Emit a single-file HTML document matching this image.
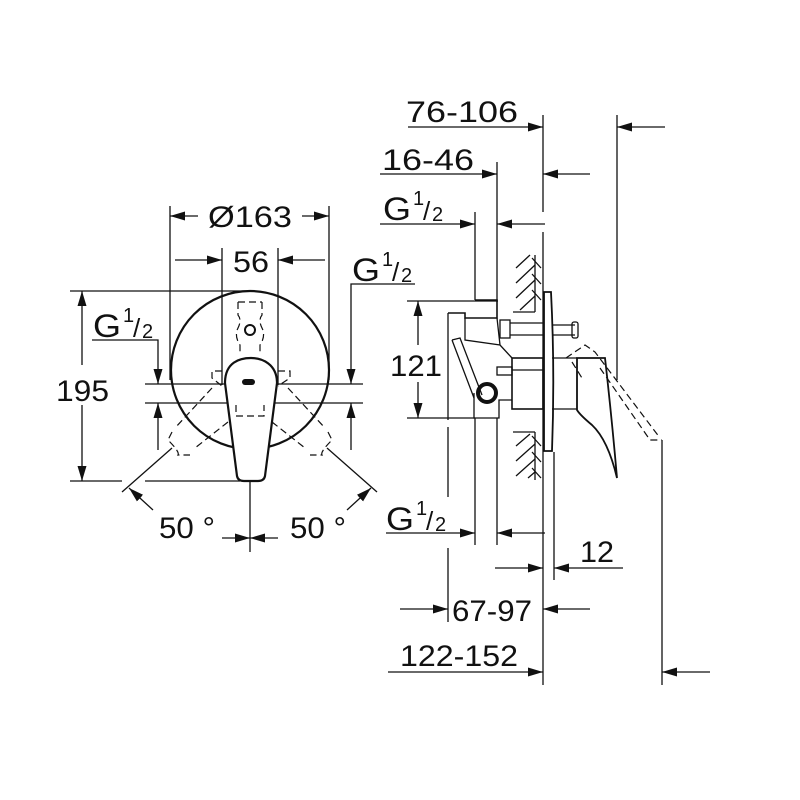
<!DOCTYPE html>
<html><head><meta charset="utf-8"><style>
html,body{margin:0;padding:0;background:#fff;}
svg{display:block;}
text{font-family:"Liberation Sans",Arial,sans-serif;fill:#111;}
</style></head><body>
<svg width="800" height="800" viewBox="0 0 800 800" xmlns="http://www.w3.org/2000/svg">
<defs>
<marker id="a" markerUnits="userSpaceOnUse" markerWidth="16" markerHeight="10" refX="15" refY="5" orient="auto">
<path d="M0,0.5 L15,5 L0,9.5 z" fill="#111"/></marker>
</defs>
<g stroke="#111" stroke-width="1.3" fill="none">
<circle cx="250" cy="370" r="79" stroke-width="2.2"/>
<line x1="170" y1="206" x2="170" y2="380"/>
<line x1="329" y1="206" x2="329" y2="380"/>
<line x1="198" y1="216" x2="170" y2="216" marker-end="url(#a)"/>
<line x1="302" y1="216" x2="329" y2="216" marker-end="url(#a)"/>
<line x1="222" y1="248" x2="222" y2="385"/>
<line x1="278" y1="248" x2="278" y2="385"/>
<line x1="175" y1="260" x2="222" y2="260" marker-end="url(#a)"/>
<line x1="325" y1="260" x2="278" y2="260" marker-end="url(#a)"/>
<line x1="70" y1="291" x2="250" y2="291"/>
<line x1="70" y1="481" x2="122" y2="481"/>
<line x1="145" y1="481" x2="240" y2="481"/>
<line x1="82" y1="365" x2="82" y2="291" marker-end="url(#a)"/>
<line x1="82" y1="405" x2="82" y2="481" marker-end="url(#a)"/>
<line x1="145" y1="384" x2="363" y2="384"/>
<line x1="145" y1="403" x2="363" y2="403"/>
<polyline points="92,340 158,340 158,384" marker-end="url(#a)"/>
<line x1="158" y1="450" x2="158" y2="403" marker-end="url(#a)"/>
<polyline points="415,284 351,284 351,384" marker-end="url(#a)"/>
<line x1="351" y1="450" x2="351" y2="403" marker-end="url(#a)"/>
<line x1="172" y1="448" x2="122" y2="492"/>
<line x1="327" y1="448" x2="377" y2="492"/>
<line x1="153" y1="510" x2="129" y2="488" marker-end="url(#a)"/>
<line x1="347" y1="510" x2="371" y2="488" marker-end="url(#a)"/>
<line x1="250" y1="481" x2="250" y2="552"/>
<line x1="222" y1="538" x2="250" y2="538" marker-end="url(#a)"/>
<line x1="278" y1="538" x2="250" y2="538" marker-end="url(#a)"/>
<path d="M225,383 C225,362 240,358 251,358 C262,358 277,364 277,383 L265,476 Q264,481 258,481 L244,481 Q238,481 237,476 Z" fill="#fff" stroke-width="2.2"/>
<rect x="242" y="379" width="13" height="6" rx="3" fill="#111" stroke="none"/>
<g stroke-dasharray="7,4" stroke-width="1.2">
<path d="M238,302 L238,315 Q242,320 238,328 Q234,336 240,345 L240,355"/>
<path d="M262,302 L262,315 Q258,320 262,328 Q266,336 260,345 L260,355"/>
<line x1="238" y1="302" x2="262" y2="302"/>
<path d="M222,371 L212,371 L212,378 L222,386"/>
<path d="M278,371 L290,371 L290,378 L278,386"/>
<path d="M236,405 L236,416 L264,416 L264,405"/>
<line x1="212" y1="388" x2="175" y2="428"/>
<line x1="228" y1="422" x2="195" y2="448"/>
<line x1="288" y1="388" x2="325" y2="428"/>
<line x1="272" y1="422" x2="305" y2="448"/>
<path d="M172,432 L168,440 Q180,452 178,455 L190,455"/>
<path d="M328,432 L332,440 Q320,452 322,455 L310,455"/>
</g>
<circle cx="250" cy="330" r="5" stroke-width="2"/>

<line x1="543" y1="115" x2="543" y2="212"/>
<line x1="543" y1="232" x2="543" y2="685"/>
<line x1="617" y1="115" x2="617" y2="380"/>
<line x1="662" y1="440" x2="662" y2="685"/>
<line x1="497" y1="162" x2="497" y2="300"/>
<line x1="497" y1="418" x2="497" y2="545"/>
<line x1="475" y1="212" x2="475" y2="300"/>
<line x1="475" y1="418" x2="475" y2="545"/>
<line x1="448" y1="313" x2="448" y2="420"/>
<line x1="448" y1="427" x2="448" y2="497"/>
<line x1="448" y1="548" x2="448" y2="622"/>
<line x1="554" y1="452" x2="554" y2="580"/>
<line x1="408" y1="127" x2="543" y2="127" marker-end="url(#a)"/>
<line x1="665" y1="127" x2="617" y2="127" marker-end="url(#a)"/>
<line x1="380" y1="174" x2="497" y2="174" marker-end="url(#a)"/>
<line x1="590" y1="174" x2="543" y2="174" marker-end="url(#a)"/>
<line x1="380" y1="224" x2="475" y2="224" marker-end="url(#a)"/>
<line x1="545" y1="224" x2="497" y2="224" marker-end="url(#a)"/>
<line x1="386" y1="533" x2="475" y2="533" marker-end="url(#a)"/>
<line x1="545" y1="533" x2="497" y2="533" marker-end="url(#a)"/>
<line x1="495" y1="568" x2="543" y2="568" marker-end="url(#a)"/>
<line x1="623" y1="568" x2="554" y2="568" marker-end="url(#a)"/>
<line x1="400" y1="609" x2="448" y2="609" marker-end="url(#a)"/>
<line x1="590" y1="609" x2="543" y2="609" marker-end="url(#a)"/>
<line x1="388" y1="672" x2="543" y2="672" marker-end="url(#a)"/>
<line x1="710" y1="672" x2="662" y2="672" marker-end="url(#a)"/>
<line x1="407" y1="301" x2="498" y2="301"/>
<line x1="407" y1="418" x2="475" y2="418"/>
<line x1="418" y1="345" x2="418" y2="301" marker-end="url(#a)"/>
<line x1="418" y1="382" x2="418" y2="418" marker-end="url(#a)"/>
<line x1="535" y1="255" x2="535" y2="312"/>
<line x1="513" y1="312" x2="535" y2="312"/>
<line x1="535" y1="432" x2="535" y2="480"/>
<line x1="513" y1="432" x2="535" y2="432"/>
<path d="M516,268 L530,255 M516,283 L535,265 M516,298 L535,280 M520,310 L535,296 M532,258 L541,268 M532,274 L541,284 M532,290 L541,300 M516,446 L530,434 M516,461 L535,444 M516,476 L535,459 M528,478 L535,472 M532,436 L541,446 M532,452 L541,462 M532,468 L541,478"/>
<path d="M544,292 L551,292 Q555,370 552,451 L544,451 Z" stroke-width="1.8" fill="#fff"/>
<line x1="510" y1="323" x2="543" y2="323"/>
<line x1="510" y1="335" x2="543" y2="335"/>
<rect x="500" y="320" width="10" height="18"/>
<line x1="552" y1="325" x2="575" y2="325"/>
<line x1="552" y1="335" x2="575" y2="335"/>
<rect x="572" y="322" width="6" height="16" rx="2"/>
<rect x="512" y="358" width="31" height="51" stroke-width="1.6"/>
<line x1="512" y1="370" x2="543" y2="370"/>
<path d="M475,300 L497,300 L497,318 L465,318 L465,313 L448,313" stroke-width="1.6"/>
<path d="M465,318 L465,340 L500,345 L512,358 M497,318 L500,345"/>
<path d="M452,340 L460,338 L482,395 M452,340 L474,398"/>
<path d="M474,393 L474,418 L499,418 L499,400 L512,400"/>
<rect x="497" y="367" width="15" height="8"/>
<circle cx="487" cy="393" r="9" stroke-width="4"/>
<path d="M577,358 L605,358 Q612,420 617,478 Q608,440 592,425 Q580,415 577,410 Z" fill="#fff" stroke-width="1.8"/>
<line x1="552" y1="358" x2="577" y2="358"/>
<line x1="552" y1="409" x2="577" y2="409"/>
<g stroke-dasharray="7,4" stroke-width="1.2">
<path d="M566,358 L585,345 L595,352 L660,438"/>
<path d="M600,368 L650,440 L662,440"/>
<path d="M572,362 L582,378"/>
</g>
</g>
<g font-size="30">
<text x="208" y="227" textLength="84" lengthAdjust="spacingAndGlyphs">Ø163</text>
<text x="233" y="272" textLength="36" lengthAdjust="spacingAndGlyphs">56</text>
<text x="56" y="401" textLength="53" lengthAdjust="spacingAndGlyphs">195</text>
<text x="159" y="538" textLength="56" lengthAdjust="spacingAndGlyphs">50 °</text>
<text x="290" y="538" textLength="56" lengthAdjust="spacingAndGlyphs">50 °</text>
<text x="406" y="122" textLength="112" lengthAdjust="spacingAndGlyphs">76-106</text>
<text x="382" y="170" textLength="92" lengthAdjust="spacingAndGlyphs">16-46</text>
<text x="390" y="376" textLength="52" lengthAdjust="spacingAndGlyphs">121</text>
<text x="580" y="562" textLength="34" lengthAdjust="spacingAndGlyphs">12</text>
<text x="452" y="621" textLength="80" lengthAdjust="spacingAndGlyphs">67-97</text>
<text x="400" y="666" textLength="118" lengthAdjust="spacingAndGlyphs">122-152</text>
</g>
<g font-size="32">
<text x="93" y="337" textLength="28" lengthAdjust="spacingAndGlyphs">G</text><text x="123" y="322" font-size="20">1</text><text x="133" y="337" font-size="26">/</text><text x="142" y="338" font-size="20">2</text>
<text x="352" y="281" textLength="28" lengthAdjust="spacingAndGlyphs">G</text><text x="382" y="266" font-size="20">1</text><text x="392" y="281" font-size="26">/</text><text x="401" y="282" font-size="20">2</text>
<text x="383" y="220" textLength="28" lengthAdjust="spacingAndGlyphs">G</text><text x="413" y="205" font-size="20">1</text><text x="423" y="220" font-size="26">/</text><text x="432" y="221" font-size="20">2</text>
<text x="386" y="530" textLength="28" lengthAdjust="spacingAndGlyphs">G</text><text x="416" y="515" font-size="20">1</text><text x="426" y="530" font-size="26">/</text><text x="435" y="531" font-size="20">2</text>
</g>
</svg>
</body></html>
